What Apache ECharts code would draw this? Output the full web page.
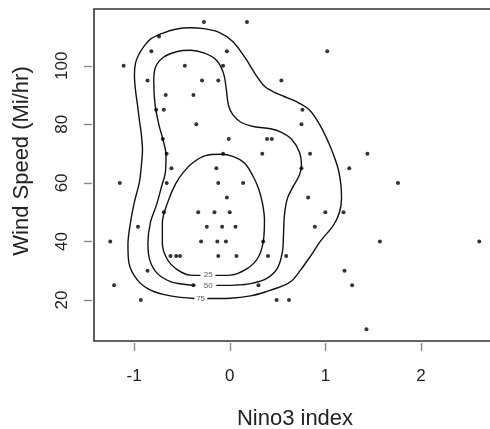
<!DOCTYPE html>
<html>
<head>
<meta charset="utf-8">
<script src="https://cdn.jsdelivr.net/npm/echarts@6/dist/echarts.min.js"></script>
<style>html,body{margin:0;background:#fff}#chart{width:490px;height:429px}</style>
</head>
<body>
<div id="chart"></div>
<script>
// tick positions
const xTicks = [-1, 0, 1, 2]
const yTicks = [20, 40, 60, 80, 100]

// storms: [nino3 index, wind speed]
const storms = [
  [-0.27,115],[0.18,115],[-0.74,110],[-0.82,105],[-0.03,105],[1.02,105],
  [-1.11,100],[-0.47,100],[-0.07,100],
  [-0.86,95],[-0.29,95],[-0.12,95],[0.54,95],
  [-0.67,90],[-0.38,90],
  [-0.77,85],[-0.69,85],[0.76,85],
  [-0.35,80],[0.75,80],
  [-0.70,75],[-0.01,75],[0.39,75],[0.44,75],
  [-0.66,70],[-0.07,70],[0.34,70],[0.84,70],[1.44,70],
  [-0.61,65],[-0.14,65],[0.75,65],[1.25,65],
  [-1.15,60],[-0.66,60],[-0.12,60],[0.14,60],[1.76,60],
  [-0.03,55],[0.82,55],
  [-0.69,50],[-0.33,50],[-0.16,50],[0.0,50],[1.00,50],[1.19,50],
  [-0.96,45],[-0.24,45],[-0.08,45],[0.06,45],[0.89,45],
  [-1.25,40],[-0.30,40],[-0.13,40],[-0.04,40],[0.35,40],[1.57,40],[2.61,40],
  [-0.62,35],[-0.56,35],[-0.52,35],[-0.12,35],[0.07,35],[0.40,35],[0.59,35],
  [-0.86,30],[1.20,30],
  [-1.21,25],[-0.38,25],[0.30,25],[1.28,25],
  [-0.93,20],[0.49,20],[0.62,20],
  [1.43,10]
]

// density contours (gap left for the level label)
const contour25 = [
  [-0.150,28.4],[0.007,28.5],[0.185,30.8],[0.300,34.7],[0.353,40.5],[0.363,47.3],
  [0.342,53.1],[0.300,58.2],[0.237,62.7],[0.154,66.8],[0.039,69.0],[-0.097,69.8],
  [-0.254,69.3],[-0.390,66.8],[-0.484,63.7],[-0.568,59.6],[-0.652,53.1],[-0.705,46.3],
  [-0.705,39.5],[-0.655,34.0],[-0.550,30.4],[-0.411,28.5],[-0.306,28.4]
]
const contour50 = [
  [-0.140,25.0],[0.060,25.1],[0.217,25.6],[0.384,27.3],[0.499,30.9],[0.551,36.4],
  [0.562,42.2],[0.572,49.0],[0.604,54.8],[0.666,58.9],[0.729,62.7],[0.750,65.7],
  [0.729,70.5],[0.645,75.0],[0.541,77.3],[0.426,78.5],[0.258,79.2],[0.112,80.8],
  [0.028,83.5],[-0.014,86.6],[-0.035,91.7],[-0.066,97.5],[-0.139,101.9],[-0.265,104.3],
  [-0.411,105.3],[-0.558,104.8],[-0.694,102.9],[-0.777,99.5],[-0.795,94.7],[-0.782,86.9],
  [-0.743,80.1],[-0.697,74.6],[-0.667,69.5],[-0.673,63.7],[-0.709,59.3],[-0.767,52.4],
  [-0.829,46.6],[-0.856,39.5],[-0.837,33.7],[-0.759,29.1],[-0.620,26.3],[-0.463,25.3],[-0.360,25.0]
]
const contour75 = [
  [-0.235,20.5],[0.007,20.6],[0.217,21.4],[0.405,23.1],[0.551,24.8],[0.646,26.5],
  [0.740,30.2],[0.845,35.0],[0.949,40.1],[1.085,45.6],[1.148,50.0],[1.169,54.8],
  [1.163,59.3],[1.137,64.4],[1.095,68.8],[1.032,73.9],[0.949,79.4],[0.834,84.9],
  [0.687,87.9],[0.562,89.6],[0.447,91.3],[0.363,93.0],[0.269,97.1],[0.164,102.6],
  [0.028,108.4],[-0.118,111.5],[-0.275,112.7],[-0.411,113.0],[-0.568,112.5],[-0.704,111.1],
  [-0.829,109.1],[-0.903,106.4],[-0.955,103.6],[-0.986,100.9],[-0.997,96.8],[-0.986,91.7],
  [-0.965,86.6],[-0.945,81.4],[-0.924,76.3],[-0.913,71.2],[-0.924,66.1],[-0.945,60.3],
  [-0.997,53.5],[-1.039,46.3],[-1.065,38.8],[-1.054,32.6],[-0.965,26.8],[-0.829,23.4],
  [-0.620,21.4],[-0.370,20.5]
]
const contourLevels = ['25', '50', '75']
const contourLabelAt = [[-0.225, 28.5], [-0.225, 25.0], [-0.305, 20.5]]

const font = 'Liberation Sans, Arial, sans-serif'
const chart = echarts.init(document.getElementById('chart'))

const lineStyle = { color: '#111', width: 1.4 }
const contourSeries = [contour25, contour50, contour75].map(d => ({
  type: 'line', data: d, smooth: 0.35, symbol: 'none', silent: true,
  lineStyle: lineStyle, z: 2
}))

chart.setOption({
  animation: false,
  backgroundColor: '#fff',
  grid: {
    left: 94, top: 9, width: 402, bottom: 88,
    outerBoundsMode: 'none', containLabel: false,
    show: true, borderColor: '#333', borderWidth: 1.6, backgroundColor: 'transparent'
  },
  xAxis: {
    type: 'value', min: -1.42, max: 2.785, offset: 2,
    name: 'Nino3 index', nameLocation: 'middle', nameGap: 65,
    nameTextStyle: { fontFamily: font, fontSize: 22, color: '#222' },
    axisLine: { show: false, onZero: false },
    splitLine: { show: false },
    axisTick: { show: true, length: 8, customValues: xTicks, lineStyle: { color: '#888', width: 1.4 } },
    axisLabel: { customValues: xTicks, margin: 25, fontFamily: font, fontSize: 17, color: '#222' }
  },
  yAxis: {
    type: 'value', min: 6.0, max: 119.4, offset: 2,
    axisLine: { show: false, onZero: false },
    splitLine: { show: false },
    axisTick: { show: true, length: 8, customValues: yTicks, lineStyle: { color: '#888', width: 1.4 } },
    axisLabel: { customValues: yTicks, rotate: 90, margin: 21, fontFamily: font, fontSize: 17, color: '#222' }
  },
  graphic: [{
    type: 'text', x: 22, y: 161, rotation: Math.PI / 2,
    style: { text: 'Wind Speed (Mi/hr)', font: '22px ' + font, fill: '#222', align: 'center', verticalAlign: 'middle' }
  }],
  series: [
    ...contourSeries,
    {
      type: 'scatter', silent: true, symbolSize: 0, z: 3,
      data: contourLabelAt.map((p, i) => ({ value: p, name: contourLevels[i] })),
      label: { show: true, position: 'inside', formatter: '{b}', fontFamily: font, fontSize: 8, color: '#333' }
    },
    {
      type: 'scatter', data: storms, symbol: 'circle', symbolSize: 4, silent: true, z: 4,
      itemStyle: { color: '#000' }
    }
  ]
})
</script>
</body>
</html>
